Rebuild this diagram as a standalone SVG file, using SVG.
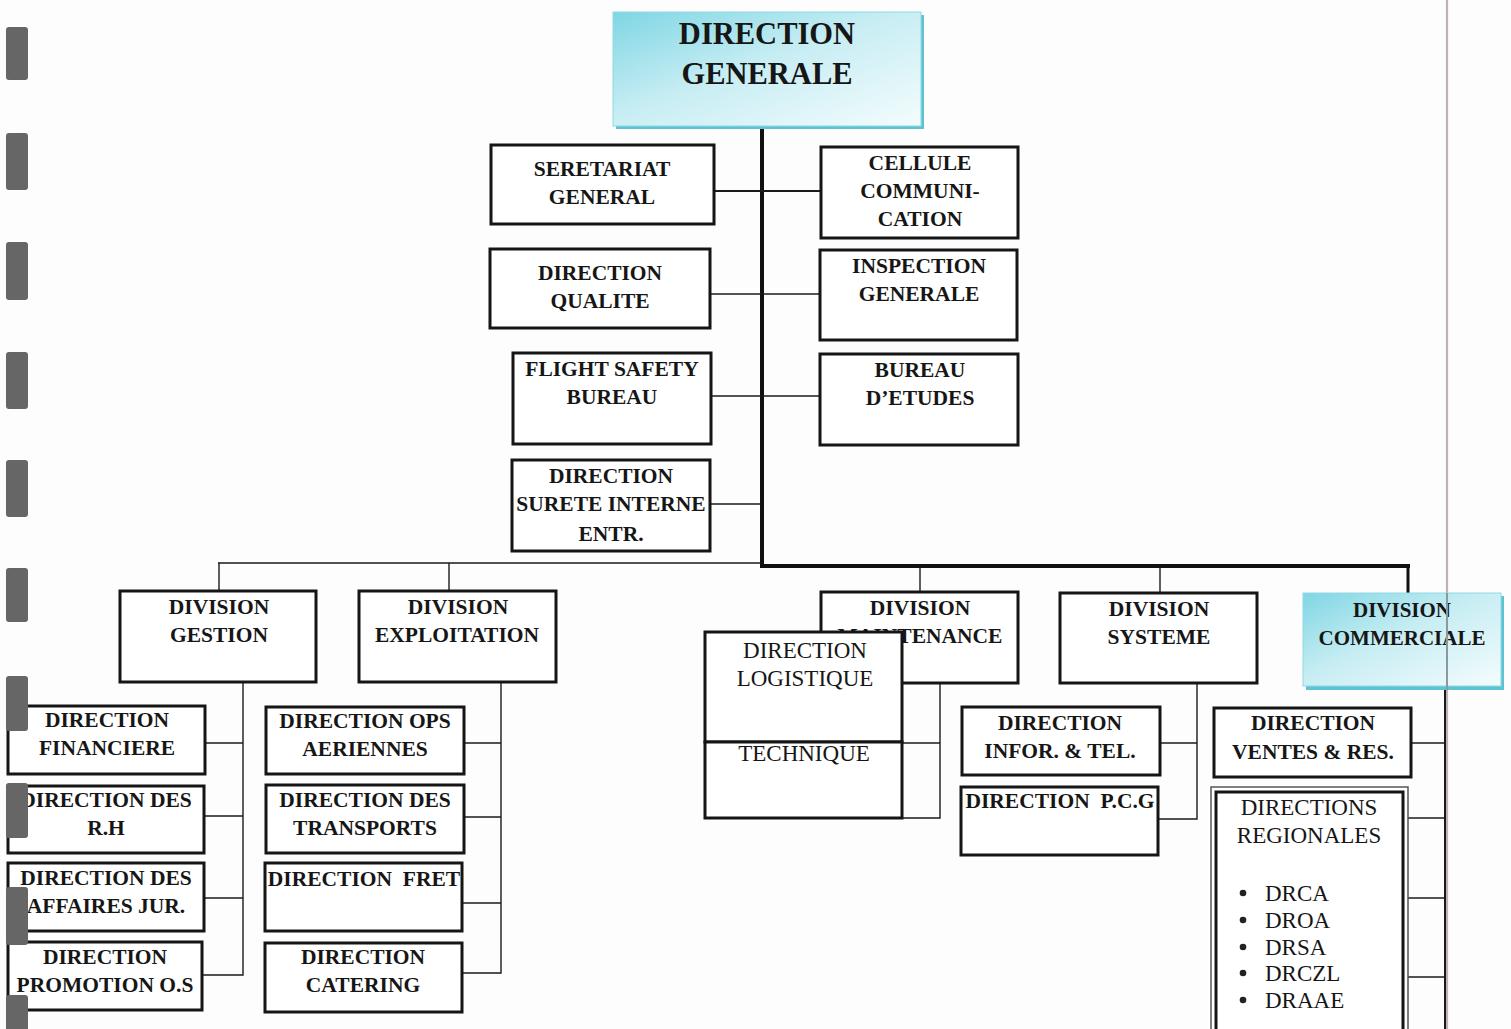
<svg xmlns="http://www.w3.org/2000/svg" width="1511" height="1029" viewBox="0 0 1511 1029">
<defs>
<linearGradient id="cy" x1="0" y1="0" x2="1" y2="1">
<stop offset="0" stop-color="#7fd6e4"/>
<stop offset="0.45" stop-color="#c6edf3"/>
<stop offset="1" stop-color="#f4fcfd"/>
</linearGradient>
<style>
.box{fill:#fff;stroke:#151515;stroke-width:3}
.t{font-family:"Liberation Serif","Times New Roman",serif;font-weight:bold;font-size:21.5px;text-anchor:middle;fill:#161616}
.r{font-weight:normal;font-size:23px}
.big{font-size:30.5px}
.cm{font-size:21px}
.thin{stroke:#1a1a1a;stroke-width:1.4;fill:none}
.mid{stroke:#1a1a1a;stroke-width:2;fill:none}
.thick{stroke:#111;stroke-width:4;fill:none}
.tab{fill:#666}
</style>
</defs>
<rect width="1511" height="1029" fill="#fdfdfd"/>

<g id="connectors">
<line class="thick" x1="762" y1="127" x2="762" y2="568"/>
<line class="mid" x1="714" y1="191" x2="822" y2="191"/>
<line class="thin" x1="710" y1="294" x2="820" y2="294"/>
<line class="thin" x1="711" y1="396" x2="820" y2="396"/>
<line class="thin" x1="710" y1="504" x2="762" y2="504"/>
<line class="thin" x1="218" y1="563" x2="762" y2="563"/>
<line class="thick" x1="760" y1="566" x2="1410" y2="566"/>
<line class="thin" x1="219" y1="563" x2="219" y2="591"/>
<line class="thin" x1="449" y1="563" x2="449" y2="591"/>
<line class="thin" x1="920" y1="566" x2="920" y2="592"/>
<line class="thin" x1="1160" y1="566" x2="1160" y2="593"/>
<line stroke="#111" stroke-width="3" x1="1408" y1="566" x2="1408" y2="593"/>
<polyline class="thin" points="243,682 243,975 203,975"/>
<line class="thin" x1="205" y1="743" x2="243" y2="743"/>
<line class="thin" x1="204" y1="816" x2="243" y2="816"/>
<line class="thin" x1="204" y1="898" x2="243" y2="898"/>
<polyline class="thin" points="501,682 501,973 462,973"/>
<line class="thin" x1="464" y1="743" x2="501" y2="743"/>
<line class="thin" x1="464" y1="817" x2="501" y2="817"/>
<line class="thin" x1="462" y1="903" x2="501" y2="903"/>
<polyline class="thin" points="940,683 940,818 902,818"/>
<line class="thin" x1="902" y1="743" x2="940" y2="743"/>
<polyline class="thin" points="1197,683 1197,819 1158,819"/>
<line class="thin" x1="1160" y1="743" x2="1197" y2="743"/>
<line x1="1447" y1="0" x2="1447" y2="1029" stroke="#bdb3b3" stroke-width="2.2"/>
<line class="mid" x1="1445" y1="687" x2="1445" y2="1029"/>
<line class="thin" x1="1411" y1="743" x2="1445" y2="743"/>
<line class="thin" x1="1408" y1="818" x2="1445" y2="818"/>
<line class="thin" x1="1408" y1="898" x2="1445" y2="898"/>
<line class="thin" x1="1408" y1="977" x2="1445" y2="977"/>
</g>

<g id="direction-generale">
<rect x="616" y="15" width="308" height="114" fill="#5fc2d3"/>
<rect x="613" y="12" width="308" height="114" fill="url(#cy)" stroke="#8fd9e5" stroke-width="1"/>
<text class="t big" x="767" y="44">DIRECTION</text>
<text class="t big" x="767" y="84">GENERALE</text>
</g>

<g id="secretariat"><rect class="box" x="491" y="145" width="223" height="79"/>
<text class="t" x="602" y="176">SERETARIAT</text><text class="t" x="602" y="204">GENERAL</text></g>
<g id="cellule"><rect class="box" x="821" y="147" width="197" height="91"/>
<text class="t" x="920" y="170">CELLULE</text><text class="t" x="920" y="198">COMMUNI-</text><text class="t" x="920" y="226">CATION</text></g>
<g id="qualite"><rect class="box" x="490" y="249" width="220" height="79"/>
<text class="t" x="600" y="280">DIRECTION</text><text class="t" x="600" y="308">QUALITE</text></g>
<g id="inspection"><rect class="box" x="820" y="250" width="197" height="90"/>
<text class="t" x="919" y="273">INSPECTION</text><text class="t" x="919" y="301">GENERALE</text></g>
<g id="flight-safety"><rect class="box" x="513" y="353" width="198" height="91"/>
<text class="t" x="612" y="376">FLIGHT SAFETY</text><text class="t" x="612" y="404">BUREAU</text></g>
<g id="bureau-etudes"><rect class="box" x="820" y="354" width="198" height="91"/>
<text class="t" x="920" y="377">BUREAU</text><text class="t" x="920" y="405">D’ETUDES</text></g>
<g id="surete"><rect class="box" x="512" y="460" width="198" height="91"/>
<text class="t" x="611" y="483">DIRECTION</text><text class="t" x="611" y="511">SURETE INTERNE</text><text class="t" x="611" y="541">ENTR.</text></g>

<g id="div-gestion"><rect class="box" x="120" y="591" width="196" height="91"/>
<text class="t" x="219" y="614">DIVISION</text><text class="t" x="219" y="642">GESTION</text></g>
<g id="div-exploitation"><rect class="box" x="359" y="591" width="197" height="91"/>
<text class="t" x="458" y="614">DIVISION</text><text class="t" x="457" y="642">EXPLOITATION</text></g>
<g id="div-maintenance"><rect class="box" x="821" y="592" width="197" height="91"/>
<text class="t" x="920" y="615">DIVISION</text><text class="t" x="920" y="643">MAINTENANCE</text></g>
<g id="div-systeme"><rect class="box" x="1060" y="593" width="197" height="90"/>
<text class="t" x="1159" y="616">DIVISION</text><text class="t" x="1159" y="644">SYSTEME</text></g>
<g id="div-commerciale">
<rect x="1306" y="596" width="198" height="94" fill="#5fc2d3"/>
<rect x="1303" y="593" width="198" height="93" fill="url(#cy)" stroke="#8fd9e5" stroke-width="1"/>
<text class="t cm" x="1402" y="617">DIVISION</text><text class="t cm" x="1402" y="645">COMMERCIALE</text>
<line x1="1447" y1="593" x2="1447" y2="690" stroke="#8a9a9c" stroke-width="2"/>
</g>

<g id="dir-financiere"><rect class="box" x="8" y="706" width="197" height="68"/>
<text class="t" x="107" y="727">DIRECTION</text><text class="t" x="107" y="755">FINANCIERE</text></g>
<g id="dir-rh"><rect class="box" x="8" y="786" width="196" height="67"/>
<text class="t" x="106" y="807">DIRECTION DES</text><text class="t" x="106" y="835">R.H</text></g>
<g id="dir-affaires"><rect class="box" x="8" y="863" width="196" height="68"/>
<text class="t" x="106" y="885">DIRECTION DES</text><text class="t" x="106" y="913">AFFAIRES JUR.</text></g>
<g id="dir-promotion"><rect class="box" x="8" y="942" width="194" height="68"/>
<text class="t" x="105" y="964">DIRECTION</text><text class="t" x="105" y="992">PROMOTION O.S</text></g>

<g id="dir-ops"><rect class="box" x="266" y="707" width="198" height="67"/>
<text class="t" x="365" y="728">DIRECTION OPS</text><text class="t" x="365" y="756">AERIENNES</text></g>
<g id="dir-transports"><rect class="box" x="266" y="785" width="198" height="68"/>
<text class="t" x="365" y="807">DIRECTION DES</text><text class="t" x="365" y="835">TRANSPORTS</text></g>
<g id="dir-fret"><rect class="box" x="265" y="863" width="197" height="68"/>
<text class="t" x="364" y="886" xml:space="preserve">DIRECTION  FRET</text></g>
<g id="dir-catering"><rect class="box" x="265" y="943" width="197" height="69"/>
<text class="t" x="363" y="964">DIRECTION</text><text class="t" x="363" y="992">CATERING</text></g>

<g id="dir-logistique"><rect class="box" x="705" y="632" width="197" height="110" stroke-width="3.5"/>
<text class="t r" x="805" y="658">DIRECTION</text><text class="t r" x="805" y="686">LOGISTIQUE</text></g>
<g id="dir-technique"><rect class="box" x="705" y="742" width="197" height="76" stroke-width="3.5"/>
<text class="t r" x="804" y="761" font-size="22">TECHNIQUE</text></g>

<g id="dir-infor"><rect class="box" x="962" y="707" width="198" height="68"/>
<text class="t" x="1060" y="730">DIRECTION</text><text class="t" x="1060" y="758">INFOR. &amp; TEL.</text></g>
<g id="dir-pcg"><rect class="box" x="961" y="787" width="197" height="68"/>
<text class="t" x="1060" y="808" xml:space="preserve">DIRECTION  P.C.G</text></g>

<g id="dir-ventes"><rect class="box" x="1214" y="708" width="197" height="69"/>
<text class="t" x="1313" y="730">DIRECTION</text><text class="t" x="1313" y="759">VENTES &amp; RES.</text></g>
<g id="dir-regionales">
<rect x="1211" y="787" width="197" height="260" fill="#fff" stroke="#555" stroke-width="1.5"/>
<rect x="1216" y="792" width="187" height="250" fill="none" stroke="#151515" stroke-width="3"/>
<text class="t r" x="1309" y="815">DIRECTIONS</text><text class="t r" x="1309" y="843">REGIONALES</text>
<g fill="#222"><circle cx="1243" cy="893" r="3.3"/><circle cx="1243" cy="920" r="3.3"/><circle cx="1243" cy="947" r="3.3"/><circle cx="1243" cy="973" r="3.3"/><circle cx="1243" cy="1000" r="3.3"/></g>
<g class="t r" style="text-anchor:start">
<text x="1265" y="901">DRCA</text><text x="1265" y="928">DROA</text><text x="1265" y="955">DRSA</text><text x="1265" y="981">DRCZL</text><text x="1265" y="1008">DRAAE</text>
</g>
</g>

<g id="binding-tabs">
<rect class="tab" x="6" y="27" width="22" height="53" rx="3"/>
<rect class="tab" x="6" y="133" width="22" height="57" rx="3"/>
<rect class="tab" x="6" y="242" width="22" height="58" rx="3"/>
<rect class="tab" x="6" y="352" width="22" height="57" rx="3"/>
<rect class="tab" x="6" y="460" width="22" height="57" rx="3"/>
<rect class="tab" x="6" y="568" width="22" height="54" rx="3"/>
<rect class="tab" x="6" y="676" width="22" height="55" rx="3"/>
<rect class="tab" x="6" y="783" width="22" height="55" rx="3"/>
<rect class="tab" x="6" y="887" width="22" height="58" rx="3"/>
<rect class="tab" x="6" y="995" width="22" height="40" rx="3"/>
</g>
</svg>
